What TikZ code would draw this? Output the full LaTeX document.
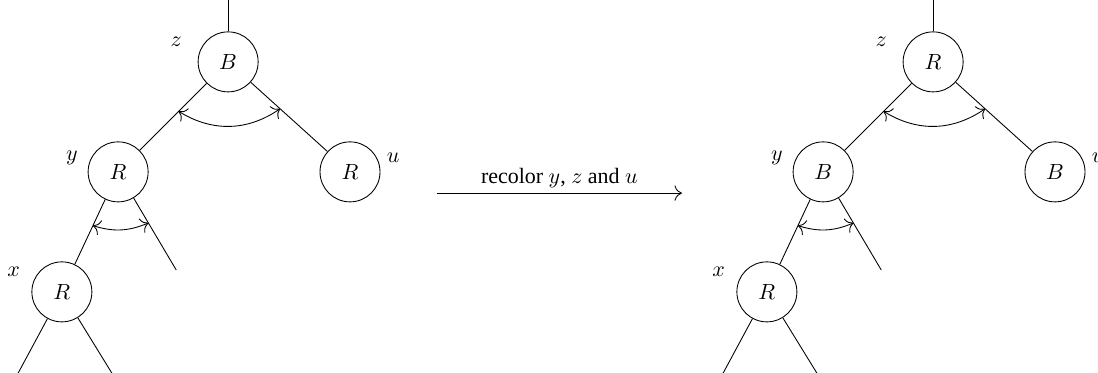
\documentclass[tikz,border=0pt]{standalone}
\usepackage{fontspec}
\setmainfont{Liberation Serif}
\usepackage{tikz}
\usetikzlibrary{calc,arrows.meta}

\begin{document}
\begin{tikzpicture}[
  >={To[scale=1.35]},
  rbnode/.style={draw,circle,minimum size=0.96cm,inner sep=0pt},
  arr/.style={->},
  turn/.style={<->},
]
  \useasboundingbox (0,0) rectangle (17.568,-5.968);

  % Before recoloring
  \node[rbnode] (z) at (3.65,-0.99) {$B$};
  \node[rbnode] (y) at (1.89,-2.75) {$R$};
  \node[rbnode] (u) at (5.60,-2.75) {$R$};
  \node[rbnode] (x) at (0.99,-4.67) {$R$};
  \node (zlab) at (2.82,-0.67) {$z$};
  \node (ylab) at (1.15,-2.53) {$y$};
  \node (ulab) at (6.29,-2.53) {$u$};
  \node (xlab) at (0.22,-4.35) {$x$};
  \coordinate (ztop) at (3.65,0);
  \coordinate (yr) at (2.82,-4.32);
  \coordinate (xl) at (0.29,-5.97);
  \coordinate (xr) at (1.79,-5.97);

  \draw (ztop) -- (z);
  \draw (z) -- (y);
  \draw (z) -- (u);
  \draw (y) -- (x);
  \draw (y) -- (yr);
  \draw (x) -- (xl);
  \draw (x) -- (xr);
  \draw[turn] ($(z)!1.12cm!(y)$) to[bend right=33] ($(z)!1.12cm!(u)$);
  \draw[turn] ($(y)!0.95cm!(x)$) to[bend right=20] ($(y)!0.95cm!(yr)$);

  % Recolor step
  \coordinate (from) at (6.99,-3.09);
  \coordinate (to) at (10.91,-3.09);
  \draw[arr] (from) -- node[above,yshift=-1pt] (step) {recolor $y$, $z$ and $u$} (to);

  % After recoloring
  \begin{scope}[xshift=11.28cm]
    \node[rbnode] (z2) at (3.65,-0.99) {$R$};
    \node[rbnode] (y2) at (1.89,-2.75) {$B$};
    \node[rbnode] (u2) at (5.60,-2.75) {$B$};
    \node[rbnode] (x2) at (0.99,-4.67) {$R$};
    \node (zlab2) at (2.82,-0.67) {$z$};
    \node (ylab2) at (1.15,-2.53) {$y$};
    \node (ulab2) at (6.29,-2.53) {$u$};
    \node (xlab2) at (0.22,-4.35) {$x$};
    \coordinate (ztop2) at (3.65,0);
    \coordinate (yr2) at (2.82,-4.32);
    \coordinate (xl2) at (0.29,-5.97);
    \coordinate (xr2) at (1.79,-5.97);

    \draw (ztop2) -- (z2);
    \draw (z2) -- (y2);
    \draw (z2) -- (u2);
    \draw (y2) -- (x2);
    \draw (y2) -- (yr2);
    \draw (x2) -- (xl2);
    \draw (x2) -- (xr2);
    \draw[turn] ($(z2)!1.12cm!(y2)$) to[bend right=33] ($(z2)!1.12cm!(u2)$);
    \draw[turn] ($(y2)!0.95cm!(x2)$) to[bend right=20] ($(y2)!0.95cm!(yr2)$);
  \end{scope}
\end{tikzpicture}
\end{document}
